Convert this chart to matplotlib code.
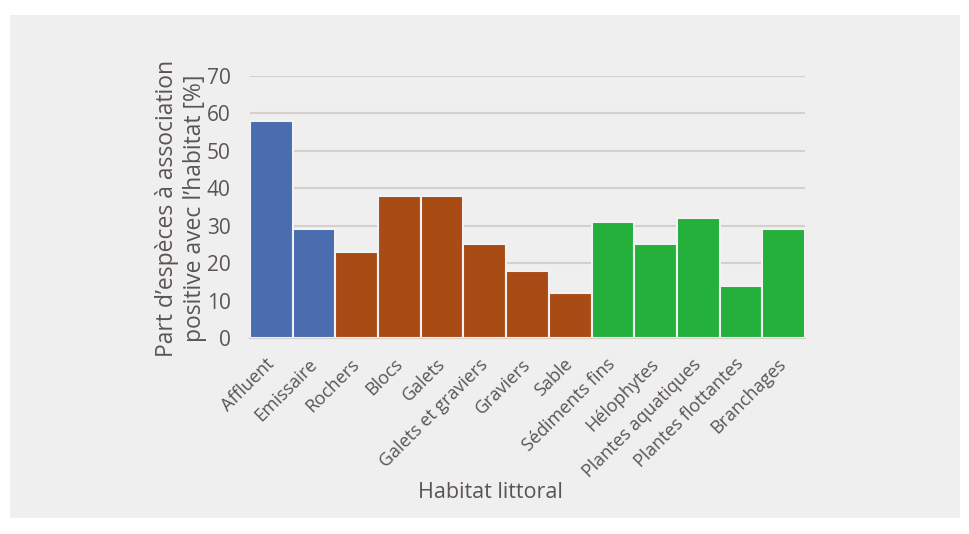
import matplotlib.pyplot as plt
from matplotlib.patches import Rectangle

habitats = ["Affluent", "Emissaire", "Rochers", "Blocs", "Galets",
            "Galets et graviers", "Graviers", "Sable", "Sédiments fins",
            "Hélophytes", "Plantes aquatiques", "Plantes flottantes", "Branchages"]
values = [58, 29, 23, 38, 38, 25, 18, 12, 31, 25, 32, 14, 29]
groups = ["eau", "eau", "min", "min", "min", "min", "min", "min",
          "veg", "veg", "veg", "veg", "veg"]
group_colors = {"eau": "#4a6db0", "min": "#a84b15", "veg": "#24b03b"}

txt = "#5a5552"
plt.rcParams['font.family'] = ['Open Sans', 'DejaVu Sans']

fig = plt.figure(figsize=(9.69, 5.34), dpi=100)
fig.patch.set_facecolor("white")
# light grey panel behind the chart
fig.patches.append(Rectangle((10 / 969, 1 - 518 / 534), 950 / 969, 503 / 534,
                             transform=fig.transFigure, facecolor="#efefef",
                             edgecolor="none", zorder=-5))

ax = fig.add_axes([250 / 969, 1 - 338 / 534, 555 / 969, 262 / 534])
ax.set_facecolor("none")

x = range(len(habitats))
ax.bar(x, values, width=1.0, color=[group_colors[g] for g in groups],
       edgecolor="#f2f2f2", linewidth=1.5, zorder=3)

ax.set_xlim(-0.5, len(habitats) - 0.5)
ax.set_ylim(0, 70)
ax.set_yticks(range(0, 71, 10))
ax.yaxis.grid(True, color="#d6cfcb", linewidth=1.5, zorder=0)
ax.set_axisbelow(True)
for s in ["top", "right", "left"]:
    ax.spines[s].set_visible(False)
ax.spines["bottom"].set_color("#d6cfcb")
ax.spines["bottom"].set_linewidth(1.5)

ax.tick_params(axis="both", length=0, colors=txt)
ax.tick_params(axis="y", labelsize=15, pad=14)
ax.set_xticks(list(x))
ax.set_xticklabels(habitats, rotation=45, ha="right", va="center",
                   rotation_mode="anchor", fontsize=13, color=txt)
ax.tick_params(axis="x", pad=17)

fig.text(181 / 969, 1 - 208 / 534,
         "Part d\u2019espèces à association\npositive avec l\u2019habitat [%]",
         rotation=90, ha="center", va="center", multialignment="center",
         fontsize=16.5, color=txt, linespacing=1.2)
fig.text(490 / 969, 1 - 493 / 534, "Habitat littoral", ha="center",
         va="center", fontsize=15.5, color=txt)

fig.savefig("out.png", dpi=100)
